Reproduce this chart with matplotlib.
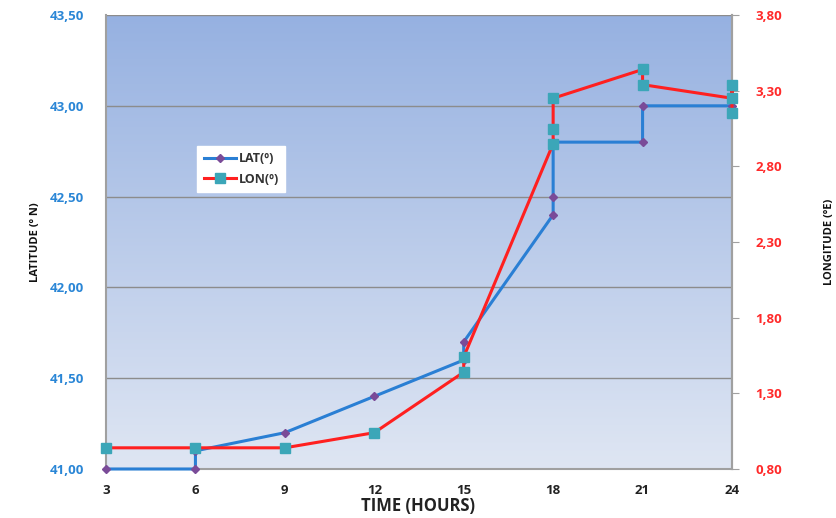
import matplotlib

matplotlib.use("Agg")
import matplotlib.pyplot as plt
import numpy as np
from matplotlib.colors import LinearSegmentedColormap

# time (hours) and positions, repeated x where the track jumps
lat_time = [3, 6, 6, 9, 12, 15, 15, 18, 18, 18, 21, 21, 24]
lat_deg = [41.00, 41.00, 41.10, 41.20, 41.40, 41.60, 41.70, 42.40, 42.50, 42.80, 42.80, 43.00, 43.00]

lon_time = [3, 6, 9, 12, 15, 15, 18, 18, 18, 21, 21, 24, 24, 24]
lon_deg = [0.94, 0.94, 0.94, 1.04, 1.44, 1.54, 2.95, 3.05, 3.25, 3.44, 3.34, 3.25, 3.34, 3.15]

x_ticks = [3, 6, 9, 12, 15, 18, 21, 24]
lat_ticks = [41.00, 41.50, 42.00, 42.50, 43.00, 43.50]
lon_ticks = [0.80, 1.30, 1.80, 2.30, 2.80, 3.30, 3.80]

plt.rcParams["font.family"] = ["Open Sans", "DejaVu Sans"]

fig = plt.figure(figsize=(8.36, 5.18), dpi=100)
ax = fig.add_axes([0.1268, 0.0946, 0.7488, 0.8764])

# gradient background for the plot area
grad = LinearSegmentedColormap.from_list("bg", ["#dfe6f3", "#96b1e1"])
ax.imshow(np.linspace(0, 1, 256)[:, None], extent=[0, 1, 0, 1], transform=ax.transAxes,
          origin="lower", aspect="auto", cmap=grad, zorder=0)

ax.set_xlim(3, 24)
ax.set_ylim(41.0, 43.5)
ax.set_xticks(x_ticks)
ax.set_yticks(lat_ticks)
ax.set_xticklabels([str(t) for t in x_ticks], fontsize=9.5, fontweight="bold", color="#222222")
ax.set_yticklabels([f"{v:.2f}".replace(".", ",") for v in lat_ticks], fontsize=9.5,
                   fontweight="bold", color="#2a86d6")
ax.tick_params(axis="x", length=0, pad=11)
ax.tick_params(axis="y", length=0, pad=16)
ax.grid(axis="y", color="#8c8c8c", lw=1.0, zorder=1)
ax.spines["top"].set_visible(False)
for side in ["left", "bottom", "right"]:
    ax.spines[side].set_color("#a0a0a0")
    ax.spines[side].set_linewidth(1.5)
ax.set_xlabel("TIME (HOURS)", fontsize=12, fontweight="bold", color="#222222")
ax.xaxis.set_label_coords(0.498, -0.082)
ax.xaxis.label.set_va("center")
ax.set_ylabel("LATITUDE (º N)", fontsize=8, fontweight="bold", color="#111111", labelpad=6)

l1, = ax.plot(lat_time, lat_deg, color="#2a7fd4", lw=2.2, marker="D", ms=4,
              mfc="#7a4b98", mec="#7a4b98", label="LAT(º)", zorder=3, clip_on=False)

ax2 = ax.twinx()
ax2.set_ylim(0.80, 3.80)
ax2.set_yticks(lon_ticks)
ax2.set_yticklabels([f"{v:.2f}".replace(".", ",") for v in lon_ticks], fontsize=9.5,
                    fontweight="bold", color="#ff2a2a")
ax2.tick_params(axis="y", length=5, color="#a0a0a0", pad=12)
for side in ["top", "left", "bottom"]:
    ax2.spines[side].set_visible(False)
ax2.spines["right"].set_color("#a0a0a0")
ax2.spines["right"].set_linewidth(1.5)
ax2.set_ylabel("LONGITUDE (ºE)", fontsize=8, fontweight="bold", color="#111111", labelpad=30)

l2, = ax2.plot(lon_time, lon_deg, color="#ff2020", lw=2.2, marker="s", ms=6.5,
               mfc="#3ba6b8", mec="#3ba6b8", label="LON(º)", zorder=3, clip_on=False)

leg = ax2.legend([l1, l2], ["LAT(º)", "LON(º)"], loc="upper left",
                 bbox_to_anchor=(0.136, 0.725), frameon=True, fancybox=False,
                 prop={"size": 9, "weight": "bold"}, handlelength=2.6, borderpad=0.5,
                 labelspacing=0.6, handletextpad=0.2)
leg.get_frame().set_edgecolor("white")
leg.get_frame().set_facecolor("white")
leg.get_frame().set_alpha(1.0)
for t in leg.get_texts():
    t.set_color("#333333")

fig.savefig("out.png", dpi=100)
